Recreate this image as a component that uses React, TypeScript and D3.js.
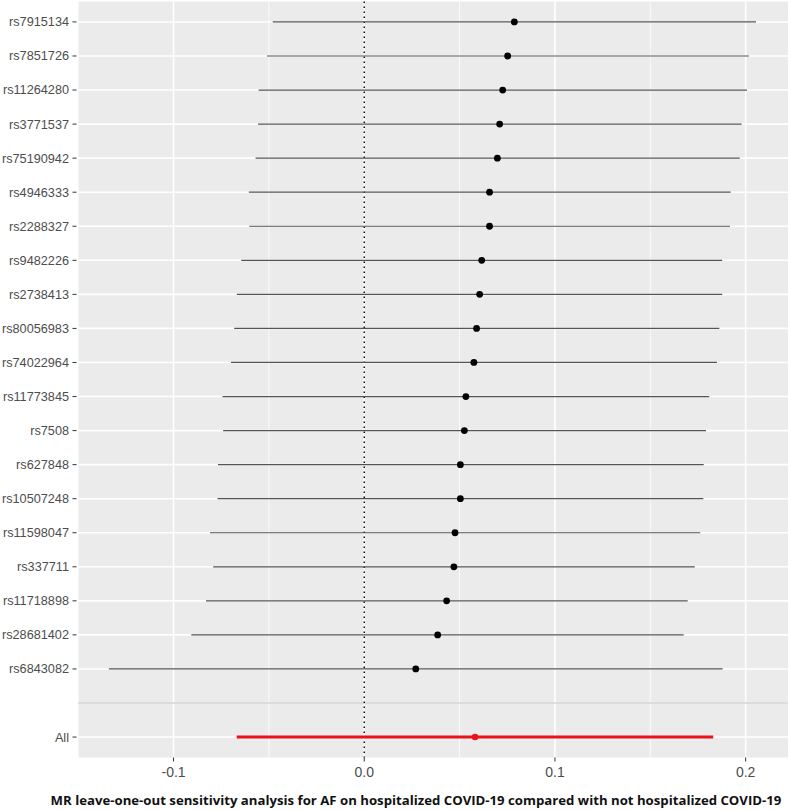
import React from "react";
import * as d3 from "d3";

// SNPs from top to bottom, then the pooled estimate
const snps = [
  "rs7915134", "rs7851726", "rs11264280", "rs3771537", "rs75190942",
  "rs4946333", "rs2288327", "rs9482226", "rs2738413", "rs80056983",
  "rs74022964", "rs11773845", "rs7508", "rs627848", "rs10507248",
  "rs11598047", "rs337711", "rs11718898", "rs28681402", "rs6843082",
];
const estimates = [
  0.0787, 0.0752, 0.0726, 0.071, 0.0698, 0.0657, 0.0657, 0.0616, 0.0605, 0.0589,
  0.0575, 0.0533, 0.0525, 0.0504, 0.0504, 0.0476, 0.047, 0.0432, 0.0385, 0.027,
];
const lower = [
  -0.048, -0.051, -0.0554, -0.0557, -0.057, -0.0605, -0.0603, -0.0645, -0.0668, -0.0682,
  -0.0699, -0.0743, -0.074, -0.0767, -0.0769, -0.0809, -0.0792, -0.083, -0.0907, -0.1339,
];
const upper = [
  0.2054, 0.2017, 0.2007, 0.1979, 0.1969, 0.1921, 0.1918, 0.1877, 0.1877, 0.1862,
  0.185, 0.1809, 0.1792, 0.178, 0.1778, 0.1762, 0.1733, 0.1696, 0.1675, 0.1879,
];
const allEstimate = 0.0581;
const allLower = -0.0669;
const allUpper = 0.183;

const xTicks = [-0.1, 0.0, 0.1, 0.2];
const xTickLabels = ["-0.1", "0.0", "0.1", "0.2"];
const xMinor = [-0.15, -0.05, 0.05, 0.15];
const title =
  "MR leave-one-out sensitivity analysis for AF on hospitalized COVID-19 compared with not hospitalized COVID-19";

const W = 790;
const H = 811;
const panel = { left: 78, right: 788, top: 1.5, bottom: 757.5 };

const App = () => {
  const levels = [...snps, "", "All"];
  const x = d3.scaleLinear().domain([-0.1501, 0.2222]).range([panel.left, panel.right]);
  const y = d3
    .scalePoint()
    .domain(levels)
    .range([panel.top, panel.bottom])
    .padding(0.6);

  const rows = snps.map((s, i) => ({ snp: s, b: estimates[i], lo: lower[i], up: upper[i] }));

  return (
    <div style={{ position: "fixed", left: 0, top: 0 }}>
      <svg width={W} height={H} style={{ display: "block", background: "#fff" }}>
        <rect
          x={panel.left}
          y={panel.top}
          width={panel.right - panel.left}
          height={panel.bottom - panel.top}
          fill="#EBEBEB"
        />
        {xMinor.map((t) => (
          <line key={"mn" + t} x1={x(t)} x2={x(t)} y1={panel.top} y2={panel.bottom} stroke="#fff" strokeWidth={0.8} />
        ))}
        {xTicks.map((t) => (
          <line key={"mj" + t} x1={x(t)} x2={x(t)} y1={panel.top} y2={panel.bottom} stroke="#fff" strokeWidth={1.6} />
        ))}
        {levels.map((l) => (
          <line
            key={"gy" + l}
            x1={panel.left}
            x2={panel.right}
            y1={y(l)}
            y2={y(l)}
            stroke="#fff"
            strokeWidth={1.6}
          />
        ))}
        {/* separator for the blank level */}
        <line x1={panel.left} x2={panel.right} y1={y("")} y2={y("")} stroke="#BEBEBE" strokeWidth={1.2} />
        <line
          x1={x(0)}
          x2={x(0)}
          y1={panel.top}
          y2={panel.bottom}
          stroke="#000"
          strokeWidth={1.4}
          strokeDasharray="1.4,3.6"
        />
        {rows.map((r) => (
          <g key={r.snp}>
            <line x1={x(r.lo)} x2={x(r.up)} y1={y(r.snp)} y2={y(r.snp)} stroke="#555" strokeWidth={1.2} />
            <circle cx={x(r.b)} cy={y(r.snp)} r={3.4} fill="#000" />
          </g>
        ))}
        <line x1={x(allLower)} x2={x(allUpper)} y1={y("All")} y2={y("All")} stroke="#E8141B" strokeWidth={3} />
        <circle cx={x(allEstimate)} cy={y("All")} r={3.3} fill="#E8141B" />

        {/* y axis */}
        {levels
          .filter((l) => l !== "")
          .map((l) => (
            <g key={"yl" + l} transform={`translate(0,${y(l)})`}>
              <line x1={72.5} x2={76.5} stroke="#333" strokeWidth={1} />
              <text
                x={69}
                dy="0.35em"
                textAnchor="end"
                fontFamily="'Liberation Sans', Arial, sans-serif"
                fontSize={12.7}
                fill="#4D4D4D"
              >
                {l}
              </text>
            </g>
          ))}
        {/* x axis */}
        {xTicks.map((t, i) => (
          <g key={"xl" + t} transform={`translate(${x(t)},0)`}>
            <line y1={panel.bottom} y2={panel.bottom + 4} stroke="#333" strokeWidth={1} />
            <text
              y={777}
              textAnchor="middle"
              fontFamily="'Liberation Sans', Arial, sans-serif"
              fontSize={14}
              fill="#4D4D4D"
            >
              {xTickLabels[i]}
            </text>
          </g>
        ))}
        <text
          x={416}
          y={804.5}
          textAnchor="middle"
          fontFamily="'Open Sans', 'Noto Sans', sans-serif"
          fontWeight="bold"
          fontSize={13.2}
          fill="#111"
        >
          {title}
        </text>
      </svg>
    </div>
  );
};

export default App;
